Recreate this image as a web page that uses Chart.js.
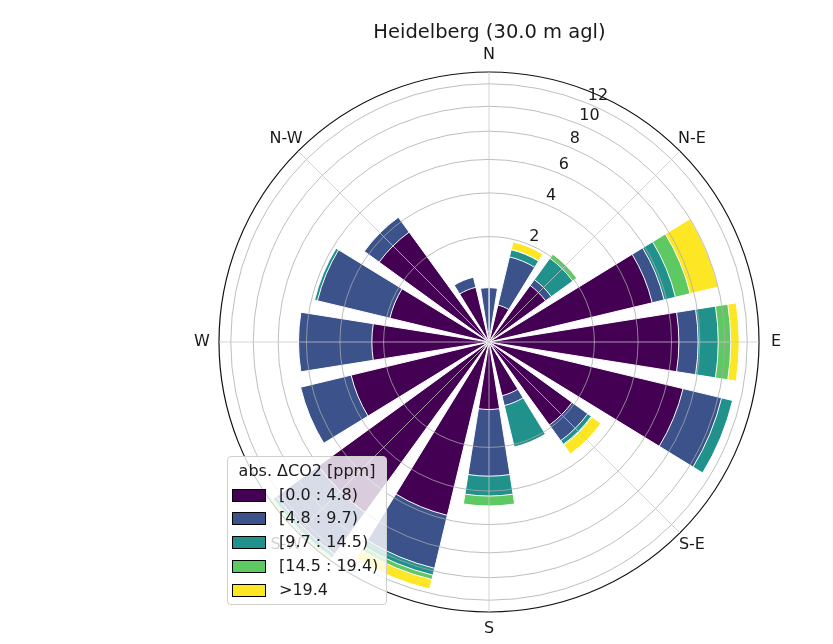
<!DOCTYPE html>
<html>
<head>
<meta charset="utf-8">
<script src="https://cdn.jsdelivr.net/npm/chart.js@4"></script>
<style>
html,body{margin:0;padding:0;background:#fff;}
#wrap{position:relative;width:833px;height:644px;}
#c{display:block;}
#legend{position:absolute;left:227px;top:456px;width:158px;height:147px;border:1px solid #cfcfcf;border-radius:4px;background:rgba(255,255,255,0.8);font-family:'DejaVu Sans',sans-serif;font-size:16px;color:#1a1a1a;}
#legend .ttl{position:absolute;left:0;width:158px;top:4px;line-height:20px;text-align:center;white-space:nowrap;}
#legend .row{position:absolute;left:0;width:158px;height:20px;}
#legend .sw{position:absolute;left:4px;top:4px;width:32px;height:11px;border:1px solid #000;box-sizing:content-box;}
#legend .tx{position:absolute;left:51px;top:0;line-height:20px;white-space:nowrap;}
</style>
</head>
<body>
<div id="wrap">
<canvas id="c" width="833" height="644"></canvas>
<div id="legend"></div>
</div>
<script>
// ---------- data ----------
const chartTitle = 'Heidelberg (30.0 m agl)';
const legendTitle = 'abs. ΔCO2 [ppm]';
const directions = ['N','NNE','NE','ENE','E','ESE','SE','SSE','S','SSW','SW','WSW','W','WNW','NW','NNW'];
const compassLabels = ['N','N-E','E','S-E','S','S-W','W','N-W'];
const binLabels = ['[0.0 : 4.8)','[4.8 : 9.7)','[9.7 : 14.5)','[14.5 : 19.4)','>19.4'];
const binColors = ['#440154','#3b528b','#21918c','#5ec962','#fde725'];
// frequency per direction for each concentration bin (N, NNE, ... NNW)
const bin1 = [0.02,0.26,0.88,5.07,6.49,7.17,1.90,0.55,0.82,5.72,8.00,3.62,2.47,1.87,3.32,0.57];
const bin2 = [0.51,1.12,0.19,0.77,1.38,3.13,0.78,0.22,2.42,4.03,4.40,3.14,4.06,3.73,0.96,0.23];
const bin3 = [0.00,0.24,0.86,0.78,1.59,1.00,0.20,1.33,1.03,0.60,0.40,0.00,0.00,0.19,0.00,0.00];
const bin4 = [0.00,0.01,0.19,1.08,1.06,0.00,0.04,0.00,0.57,0.39,0.15,0.00,0.00,0.00,0.00,0.00];
const bin5 = [0.00,0.28,0.00,2.30,0.75,0.00,0.53,0.00,0.00,0.88,0.17,0.00,0.00,0.00,0.00,0.00];
const radialTicks = [2,4,6,8,10,12];
const radialMax = 13.12;

// ---------- build ----------
const bins = [bin1,bin2,bin3,bin4,bin5];
const BAR = 18, GAP = 4.5;
const angles = [BAR/2];
for (let i = 1; i < directions.length; i++) { angles.push(GAP, BAR); }
angles.push(GAP, BAR/2);
function expand(vals) {
  const out = [vals[0]];
  for (let i = 1; i < vals.length; i++) { out.push(0, vals[i]); }
  out.push(0, vals[0]);
  return out;
}
const isGap = i => (i % 2 === 1);
const cum = [];
bins.forEach((b, k) => {
  cum.push(b.map((v, i) => (k ? cum[k-1][i] : 0) + v));
});
const datasets = cum.map((c, k) => ({
  label: binLabels[k],
  data: expand(c.map(v => Math.sqrt(v))),
  backgroundColor: binColors[k],
  borderColor: '#ffffff',
  borderWidth: ctx => isGap(ctx.dataIndex) ? 0 : 1,
  angle: ctx => angles[ctx.dataIndex]
}));

const roseText = {
  id: 'roseText',
  afterDraw(chart) {
    const s = chart.scales.r;
    const ctx = chart.ctx;
    ctx.save();
    ctx.fillStyle = '#1a1a1a';
    ctx.font = '16px "DejaVu Sans"';
    ctx.textAlign = 'center';
    ctx.textBaseline = 'middle';
    compassLabels.forEach((lab, i) => {
      const p = s.getPointPosition(i, s.drawingArea + 17);
      ctx.fillText(lab, p.x, p.y);
    });
    ctx.textAlign = 'left';
    ctx.textBaseline = 'bottom';
    const a = 22.5 * Math.PI / 180;
    radialTicks.forEach(v => {
      const r = s.getDistanceFromCenterForValue(Math.sqrt(v));
      ctx.fillText(String(v), s.xCenter + r * Math.sin(a), s.yCenter - r * Math.cos(a));
    });
    ctx.restore();
  }
};

const nTicks = radialTicks.length + 2;
new Chart(document.getElementById('c'), {
  type: 'polarArea',
  data: { labels: compassLabels, datasets },
  options: {
    responsive: false,
    animation: false,
    layout: { padding: { left: 219, right: 73, top: 0, bottom: 31 } },
    plugins: {
      legend: { display: false },
      tooltip: { enabled: false },
      title: {
        display: true, text: chartTitle, color: '#1a1a1a',
        font: { family: 'DejaVu Sans', size: 19.5, weight: 'normal', lineHeight: 1.2 },
        padding: { top: 21.3, bottom: 27.3 }
      }
    },
    scales: {
      r: {
        min: 0, max: Math.sqrt(radialMax), startAngle: 0,
        afterBuildTicks: sc => { sc.ticks = [0, ...radialTicks, radialMax].map(v => ({ value: Math.sqrt(v) })); },
        ticks: { display: false },
        pointLabels: { display: false },
        grid: {
          circular: true, z: 1,
          color: c => c.index === nTicks - 1 ? '#111111' : 'rgba(170,170,170,0.85)',
          lineWidth: c => c.index === nTicks - 1 ? 1.2 : 0.9
        },
        angleLines: { display: true, color: 'rgba(200,200,200,0.85)', lineWidth: 0.9 }
      }
    }
  },
  plugins: [roseText]
});

// ---------- legend ----------
const lg = document.getElementById('legend');
const t = document.createElement('div'); t.className = 'ttl'; t.textContent = legendTitle; lg.appendChild(t);
binLabels.forEach((lab, k) => {
  const row = document.createElement('div'); row.className = 'row';
  row.style.top = (27.5 + k * 23.8) + 'px';
  const sw = document.createElement('div'); sw.className = 'sw'; sw.style.background = binColors[k];
  const tx = document.createElement('div'); tx.className = 'tx'; tx.textContent = lab;
  row.appendChild(sw); row.appendChild(tx); lg.appendChild(row);
});
</script>
</body>
</html>
